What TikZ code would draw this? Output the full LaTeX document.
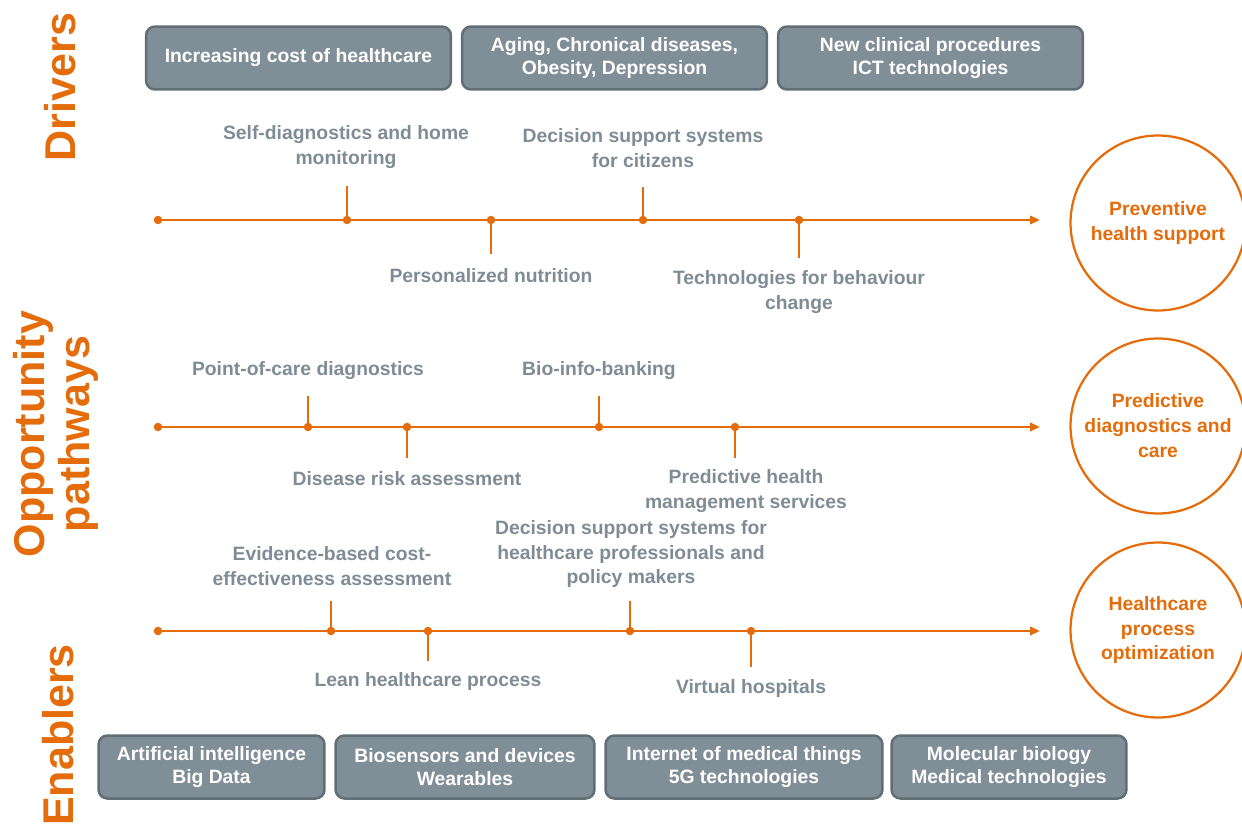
\documentclass[tikz,border=0pt]{standalone}
\usepackage{fontspec}
\setmainfont{Liberation Sans}
\usetikzlibrary{arrows.meta}
\definecolor{dorange}{HTML}{E46C0A}
\definecolor{boxfill}{HTML}{808E97}
\definecolor{boxline}{HTML}{626E75}
\definecolor{lbl}{HTML}{7F8C95}
\begin{document}
\begin{tikzpicture}[x=0.02cm,y=-0.02cm,
  box/.style={draw=boxline,fill=boxfill,line width=0.05cm,rounded corners=0.18cm,
    text=white,font=\fontsize{11}{13.2}\selectfont\bfseries,align=center,
    minimum height=1.26cm,inner sep=0pt},
  lab/.style={text=lbl,font=\fontsize{11}{14.2}\selectfont\bfseries,align=center,inner sep=0pt},
  title/.style={text=dorange,font=\fontsize{24.5}{25.5}\selectfont\bfseries,align=center,rotate=90,inner sep=0pt},
  tl/.style={draw=dorange,line width=0.045cm,-{Triangle[length=0.2cm,width=0.17cm]}},
  tick/.style={draw=dorange,line width=0.04cm},
  dot/.style={circle,fill=dorange,inner sep=0pt,minimum size=0.17cm},
  goal/.style={circle,draw=dorange,line width=0.045cm,minimum size=3.5cm,inner sep=0pt,
    text=dorange,font=\fontsize{11}{14.2}\selectfont\bfseries,align=center}
]
\useasboundingbox (0,0) rectangle (1242,825);

% titles
\node[title] (tdrv) at (60,87) {Drivers};
\node[title] (topp) at (56,434) {Opportunity\\pathways};
\node[title] (tenb) at (58,735) {Enablers};

% driver boxes
\node[box,minimum width=6.1cm] (d1) at (298.5,58) {Increasing cost of healthcare};
\node[box,minimum width=6.1cm] (d2) at (614.5,58) {Aging, Chronical diseases,\\Obesity, Depression};
\node[box,minimum width=6.1cm] (d3) at (930.5,58) {New clinical procedures\\ICT technologies};

% enabler boxes
\node[box,minimum width=4.52cm] (e1) at (211.5,767) {Artificial intelligence\\Big Data};
\node[box,minimum width=5.18cm] (e2) at (465,767) {Biosensors and devices\\Wearables};
\node[box,minimum width=5.54cm] (e3) at (744,767) {Internet of medical things\\5G technologies};
\node[box,minimum width=4.70cm] (e4) at (1009,767) {Molecular biology\\Medical technologies};

% goal circles
\node[goal] (g1) at (1158,223) {Preventive\\health support};
\node[goal] (g2) at (1158,426) {Predictive\\diagnostics and\\care};
\node[goal] (g3) at (1158,630) {Healthcare\\process\\optimization};

% ---- timeline 1
\node[dot] (a0) at (158,220) {};
\node[dot] (a1) at (347,220) {};
\node[dot] (a2) at (491,220) {};
\node[dot] (a3) at (643,220) {};
\node[dot] (a4) at (799,220) {};
\coordinate (aend) at (1040,220);
\draw[tl] (a0.center) -- (aend);
\coordinate (a1t) at (347,186);
\coordinate (a2t) at (491,254);
\coordinate (a3t) at (643,187);
\coordinate (a4t) at (799,258);
\draw[tick] (a1.center) -- (a1t);
\draw[tick] (a2.center) -- (a2t);
\draw[tick] (a3.center) -- (a3t);
\draw[tick] (a4.center) -- (a4t);
\node[lab] (la1) at (346,147) {Self-diagnostics and home\\monitoring};
\node[lab] (la3) at (643,148) {Decision support systems\\for citizens};
\node[lab] (la2) at (491,276) {Personalized nutrition};
\node[lab] (la4) at (799,292) {Technologies for behaviour\\change};

% ---- timeline 2
\node[dot] (b0) at (158,427) {};
\node[dot] (b1) at (308,427) {};
\node[dot] (b2) at (407,427) {};
\node[dot] (b3) at (599,427) {};
\node[dot] (b4) at (735,427) {};
\coordinate (bend) at (1040,427);
\draw[tl] (b0.center) -- (bend);
\coordinate (b1t) at (308,396);
\coordinate (b2t) at (407,458);
\coordinate (b3t) at (599,396);
\coordinate (b4t) at (735,458);
\draw[tick] (b1.center) -- (b1t);
\draw[tick] (b2.center) -- (b2t);
\draw[tick] (b3.center) -- (b3t);
\draw[tick] (b4.center) -- (b4t);
\node[lab] (lb1) at (308,371) {Point-of-care diagnostics};
\node[lab] (lb3) at (599,371) {Bio-info-banking};
\node[lab] (lb2) at (407,479) {Disease risk assessment};
\node[lab] (lb4) at (746,491) {Predictive health\\management services};

% ---- timeline 3
\node[dot] (c0) at (158,631) {};
\node[dot] (c1) at (331,631) {};
\node[dot] (c2) at (428,631) {};
\node[dot] (c3) at (630,631) {};
\node[dot] (c4) at (751,631) {};
\coordinate (cend) at (1040,631);
\draw[tl] (c0.center) -- (cend);
\coordinate (c1t) at (331,601);
\coordinate (c2t) at (428,661);
\coordinate (c3t) at (630,601);
\coordinate (c4t) at (751,667);
\draw[tick] (c1.center) -- (c1t);
\draw[tick] (c2.center) -- (c2t);
\draw[tick] (c3.center) -- (c3t);
\draw[tick] (c4.center) -- (c4t);
\node[lab] (lc1) at (332,566) {Evidence-based cost-\\effectiveness assessment};
\node[lab] (lc3) at (631,554) {Decision support systems for\\healthcare professionals and\\policy makers};
\node[lab] (lc2) at (428,681) {Lean healthcare process};
\node[lab] (lc4) at (751,688) {Virtual hospitals};
\end{tikzpicture}
\end{document}
